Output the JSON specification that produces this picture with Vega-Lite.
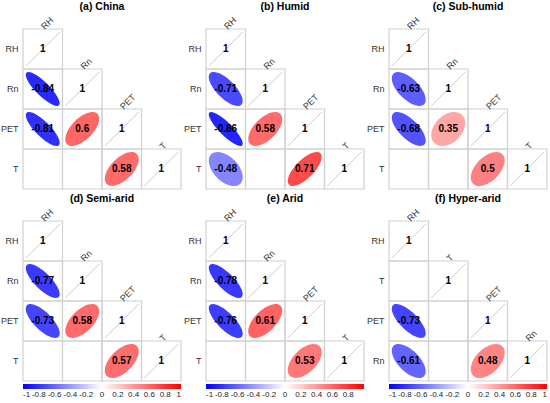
{
  "$schema": "https://vega.github.io/schema/vega-lite/v6.json",
  "background": "white",
  "padding": {"left": 0, "top": 2, "right": 0, "bottom": 0},
  "datasets": {
    "corr": [
      {"panel": "a", "row": "RH", "col": "RH", "r": 1},
      {"panel": "a", "row": "Rn", "col": "RH", "r": -0.84},
      {"panel": "a", "row": "Rn", "col": "Rn", "r": 1},
      {"panel": "a", "row": "PET", "col": "RH", "r": -0.81},
      {"panel": "a", "row": "PET", "col": "Rn", "r": 0.6},
      {"panel": "a", "row": "PET", "col": "PET", "r": 1},
      {"panel": "a", "row": "T", "col": "RH", "r": null},
      {"panel": "a", "row": "T", "col": "Rn", "r": null},
      {"panel": "a", "row": "T", "col": "PET", "r": 0.58},
      {"panel": "a", "row": "T", "col": "T", "r": 1},

      {"panel": "b", "row": "RH", "col": "RH", "r": 1},
      {"panel": "b", "row": "Rn", "col": "RH", "r": -0.71},
      {"panel": "b", "row": "Rn", "col": "Rn", "r": 1},
      {"panel": "b", "row": "PET", "col": "RH", "r": -0.86},
      {"panel": "b", "row": "PET", "col": "Rn", "r": 0.58},
      {"panel": "b", "row": "PET", "col": "PET", "r": 1},
      {"panel": "b", "row": "T", "col": "RH", "r": -0.48},
      {"panel": "b", "row": "T", "col": "Rn", "r": null},
      {"panel": "b", "row": "T", "col": "PET", "r": 0.71},
      {"panel": "b", "row": "T", "col": "T", "r": 1},

      {"panel": "c", "row": "RH", "col": "RH", "r": 1},
      {"panel": "c", "row": "Rn", "col": "RH", "r": -0.63},
      {"panel": "c", "row": "Rn", "col": "Rn", "r": 1},
      {"panel": "c", "row": "PET", "col": "RH", "r": -0.68},
      {"panel": "c", "row": "PET", "col": "Rn", "r": 0.35},
      {"panel": "c", "row": "PET", "col": "PET", "r": 1},
      {"panel": "c", "row": "T", "col": "RH", "r": null},
      {"panel": "c", "row": "T", "col": "Rn", "r": null},
      {"panel": "c", "row": "T", "col": "PET", "r": 0.5},
      {"panel": "c", "row": "T", "col": "T", "r": 1},

      {"panel": "d", "row": "RH", "col": "RH", "r": 1},
      {"panel": "d", "row": "Rn", "col": "RH", "r": -0.77},
      {"panel": "d", "row": "Rn", "col": "Rn", "r": 1},
      {"panel": "d", "row": "PET", "col": "RH", "r": -0.73},
      {"panel": "d", "row": "PET", "col": "Rn", "r": 0.58},
      {"panel": "d", "row": "PET", "col": "PET", "r": 1},
      {"panel": "d", "row": "T", "col": "RH", "r": null},
      {"panel": "d", "row": "T", "col": "Rn", "r": null},
      {"panel": "d", "row": "T", "col": "PET", "r": 0.57},
      {"panel": "d", "row": "T", "col": "T", "r": 1},

      {"panel": "e", "row": "RH", "col": "RH", "r": 1},
      {"panel": "e", "row": "Rn", "col": "RH", "r": -0.78},
      {"panel": "e", "row": "Rn", "col": "Rn", "r": 1},
      {"panel": "e", "row": "PET", "col": "RH", "r": -0.76},
      {"panel": "e", "row": "PET", "col": "Rn", "r": 0.61},
      {"panel": "e", "row": "PET", "col": "PET", "r": 1},
      {"panel": "e", "row": "T", "col": "RH", "r": null},
      {"panel": "e", "row": "T", "col": "Rn", "r": null},
      {"panel": "e", "row": "T", "col": "PET", "r": 0.53},
      {"panel": "e", "row": "T", "col": "T", "r": 1},

      {"panel": "f", "row": "RH", "col": "RH", "r": 1},
      {"panel": "f", "row": "T", "col": "RH", "r": null},
      {"panel": "f", "row": "T", "col": "T", "r": 1},
      {"panel": "f", "row": "PET", "col": "RH", "r": -0.73},
      {"panel": "f", "row": "PET", "col": "T", "r": null},
      {"panel": "f", "row": "PET", "col": "PET", "r": 1},
      {"panel": "f", "row": "Rn", "col": "RH", "r": -0.61},
      {"panel": "f", "row": "Rn", "col": "T", "r": null},
      {"panel": "f", "row": "Rn", "col": "PET", "r": 0.48},
      {"panel": "f", "row": "Rn", "col": "Rn", "r": 1}
    ]
  },
  "resolve": {"scale": {"color": "independent", "shape": "independent"}},
  "spacing": 4,
  "vconcat": [
    {
      "resolve": {"scale": {"color": "independent", "shape": "independent"}},
      "spacing": 1,
      "hconcat": [
        {
          "title": "(a) China",
          "width": 158,
          "height": 160,
          "data": {"name": "corr"},
          "transform": [{"filter": "datum.panel == 'a'"}],
          "encoding": {
            "x": {"field": "col", "type": "nominal", "scale": {"domain": ["RH", "Rn", "PET", "T"], "padding": 0}, "axis": null},
            "y": {"field": "row", "type": "nominal", "scale": {"domain": ["RH", "Rn", "PET", "T"], "padding": 0}}
          },
          "layer": [
            {"mark": {"type": "rect", "filled": false, "stroke": "#d0d0d0", "strokeWidth": 1.2}},
            {
              "transform": [{"filter": "datum.r != null && datum.r < 1"}],
              "mark": {"type": "point", "filled": true, "opacity": 1, "size": 1156, "strokeWidth": 0},
              "encoding": {
                "color": {"field": "r", "type": "quantitative", "scale": {"domain": [-1, 0, 1], "range": ["#0000ff", "#ffffff", "#ff0000"], "interpolate": "rgb"}, "legend": null},
                "shape": {"field": "r", "type": "nominal", "legend": null, "scale": {
                  "domain": [-0.84, -0.81, 0.6, 0.58],
                  "range": [
                    "M -1.356 0 A 1.356 0.4 0 1 0 1.356 0 A 1.356 0.4 0 1 0 -1.356 0 Z",
                    "M -1.345 0 A 1.345 0.436 0 1 0 1.345 0 A 1.345 0.436 0 1 0 -1.345 0 Z",
                    "M -1.265 0 A 1.265 0.632 0 1 0 1.265 0 A 1.265 0.632 0 1 0 -1.265 0 Z",
                    "M -1.257 0 A 1.257 0.648 0 1 0 1.257 0 A 1.257 0.648 0 1 0 -1.257 0 Z"
                  ]}},
                "angle": {"condition": {"test": "datum.r < 0", "value": 45}, "value": 315}
              }
            },
            {
              "transform": [{"filter": "datum.r == 1"}],
              "mark": {"type": "point", "shape": "M -1 1 L 1 -1", "filled": false, "opacity": 1, "size": 1156, "stroke": "#bdbdbd", "strokeWidth": 0.8}
            },
            {
              "transform": [{"filter": "datum.r != null"}],
              "mark": {"type": "text", "fontWeight": "bold", "fontSize": 10, "color": "black"},
              "encoding": {"text": {"field": "r", "type": "nominal"}}
            },
            {
              "transform": [{"filter": "datum.r == 1"}],
              "mark": {"type": "text", "angle": 315, "align": "left", "baseline": "middle", "yOffset": -21, "fontSize": 9, "color": "#333"},
              "encoding": {"text": {"field": "col", "type": "nominal"}}
            }
          ]
        },
        {
          "title": "(b) Humid",
          "width": 158,
          "height": 160,
          "data": {"name": "corr"},
          "transform": [{"filter": "datum.panel == 'b'"}],
          "encoding": {
            "x": {"field": "col", "type": "nominal", "scale": {"domain": ["RH", "Rn", "PET", "T"], "padding": 0}, "axis": null},
            "y": {"field": "row", "type": "nominal", "scale": {"domain": ["RH", "Rn", "PET", "T"], "padding": 0}}
          },
          "layer": [
            {"mark": {"type": "rect", "filled": false, "stroke": "#d0d0d0", "strokeWidth": 1.2}},
            {
              "transform": [{"filter": "datum.r != null && datum.r < 1"}],
              "mark": {"type": "point", "filled": true, "opacity": 1, "size": 1156, "strokeWidth": 0},
              "encoding": {
                "color": {"field": "r", "type": "quantitative", "scale": {"domain": [-1, 0, 1], "range": ["#0000ff", "#ffffff", "#ff0000"], "interpolate": "rgb"}, "legend": null},
                "shape": {"field": "r", "type": "nominal", "legend": null, "scale": {
                  "domain": [-0.71, -0.86, 0.58, -0.48, 0.71],
                  "range": [
                    "M -1.308 0 A 1.308 0.539 0 1 0 1.308 0 A 1.308 0.539 0 1 0 -1.308 0 Z",
                    "M -1.364 0 A 1.364 0.374 0 1 0 1.364 0 A 1.364 0.374 0 1 0 -1.364 0 Z",
                    "M -1.257 0 A 1.257 0.648 0 1 0 1.257 0 A 1.257 0.648 0 1 0 -1.257 0 Z",
                    "M -1.217 0 A 1.217 0.721 0 1 0 1.217 0 A 1.217 0.721 0 1 0 -1.217 0 Z",
                    "M -1.308 0 A 1.308 0.539 0 1 0 1.308 0 A 1.308 0.539 0 1 0 -1.308 0 Z"
                  ]}},
                "angle": {"condition": {"test": "datum.r < 0", "value": 45}, "value": 315}
              }
            },
            {
              "transform": [{"filter": "datum.r == 1"}],
              "mark": {"type": "point", "shape": "M -1 1 L 1 -1", "filled": false, "opacity": 1, "size": 1156, "stroke": "#bdbdbd", "strokeWidth": 0.8}
            },
            {
              "transform": [{"filter": "datum.r != null"}],
              "mark": {"type": "text", "fontWeight": "bold", "fontSize": 10, "color": "black"},
              "encoding": {"text": {"field": "r", "type": "nominal"}}
            },
            {
              "transform": [{"filter": "datum.r == 1"}],
              "mark": {"type": "text", "angle": 315, "align": "left", "baseline": "middle", "yOffset": -21, "fontSize": 9, "color": "#333"},
              "encoding": {"text": {"field": "col", "type": "nominal"}}
            }
          ]
        },
        {
          "title": "(c) Sub-humid",
          "width": 158,
          "height": 160,
          "data": {"name": "corr"},
          "transform": [{"filter": "datum.panel == 'c'"}],
          "encoding": {
            "x": {"field": "col", "type": "nominal", "scale": {"domain": ["RH", "Rn", "PET", "T"], "padding": 0}, "axis": null},
            "y": {"field": "row", "type": "nominal", "scale": {"domain": ["RH", "Rn", "PET", "T"], "padding": 0}}
          },
          "layer": [
            {"mark": {"type": "rect", "filled": false, "stroke": "#d0d0d0", "strokeWidth": 1.2}},
            {
              "transform": [{"filter": "datum.r != null && datum.r < 1"}],
              "mark": {"type": "point", "filled": true, "opacity": 1, "size": 1156, "strokeWidth": 0},
              "encoding": {
                "color": {"field": "r", "type": "quantitative", "scale": {"domain": [-1, 0, 1], "range": ["#0000ff", "#ffffff", "#ff0000"], "interpolate": "rgb"}, "legend": null},
                "shape": {"field": "r", "type": "nominal", "legend": null, "scale": {
                  "domain": [-0.63, -0.68, 0.35, 0.5],
                  "range": [
                    "M -1.277 0 A 1.277 0.608 0 1 0 1.277 0 A 1.277 0.608 0 1 0 -1.277 0 Z",
                    "M -1.296 0 A 1.296 0.566 0 1 0 1.296 0 A 1.296 0.566 0 1 0 -1.296 0 Z",
                    "M -1.162 0 A 1.162 0.806 0 1 0 1.162 0 A 1.162 0.806 0 1 0 -1.162 0 Z",
                    "M -1.225 0 A 1.225 0.707 0 1 0 1.225 0 A 1.225 0.707 0 1 0 -1.225 0 Z"
                  ]}},
                "angle": {"condition": {"test": "datum.r < 0", "value": 45}, "value": 315}
              }
            },
            {
              "transform": [{"filter": "datum.r == 1"}],
              "mark": {"type": "point", "shape": "M -1 1 L 1 -1", "filled": false, "opacity": 1, "size": 1156, "stroke": "#bdbdbd", "strokeWidth": 0.8}
            },
            {
              "transform": [{"filter": "datum.r != null"}],
              "mark": {"type": "text", "fontWeight": "bold", "fontSize": 10, "color": "black"},
              "encoding": {"text": {"field": "r", "type": "nominal"}}
            },
            {
              "transform": [{"filter": "datum.r == 1"}],
              "mark": {"type": "text", "angle": 315, "align": "left", "baseline": "middle", "yOffset": -21, "fontSize": 9, "color": "#333"},
              "encoding": {"text": {"field": "col", "type": "nominal"}}
            }
          ]
        }
      ]
    },
    {
      "resolve": {"scale": {"color": "independent", "shape": "independent"}},
      "spacing": 1,
      "hconcat": [
        {
          "title": "(d) Semi-arid",
          "width": 158,
          "height": 160,
          "data": {"name": "corr"},
          "transform": [{"filter": "datum.panel == 'd'"}],
          "encoding": {
            "x": {"field": "col", "type": "nominal", "scale": {"domain": ["RH", "Rn", "PET", "T"], "padding": 0}, "axis": null},
            "y": {"field": "row", "type": "nominal", "scale": {"domain": ["RH", "Rn", "PET", "T"], "padding": 0}}
          },
          "layer": [
            {"mark": {"type": "rect", "filled": false, "stroke": "#d0d0d0", "strokeWidth": 1.2}},
            {
              "transform": [{"filter": "datum.r != null && datum.r < 1"}],
              "mark": {"type": "point", "filled": true, "opacity": 1, "size": 1156, "strokeWidth": 0},
              "encoding": {
                "color": {"field": "r", "type": "quantitative", "scale": {"domain": [-1, 0, 1], "range": ["#0000ff", "#ffffff", "#ff0000"], "interpolate": "rgb"},
                  "legend": {"title": null, "values": [-1, -0.8, -0.6, -0.4, -0.2, 0, 0.2, 0.4, 0.6, 0.8, 1], "labelExpr": "'' + datum.value"}},
                "shape": {"field": "r", "type": "nominal", "legend": null, "scale": {
                  "domain": [-0.77, -0.73, 0.58, 0.57],
                  "range": [
                    "M -1.330 0 A 1.330 0.480 0 1 0 1.330 0 A 1.330 0.480 0 1 0 -1.330 0 Z",
                    "M -1.315 0 A 1.315 0.520 0 1 0 1.315 0 A 1.315 0.520 0 1 0 -1.315 0 Z",
                    "M -1.257 0 A 1.257 0.648 0 1 0 1.257 0 A 1.257 0.648 0 1 0 -1.257 0 Z",
                    "M -1.253 0 A 1.253 0.656 0 1 0 1.253 0 A 1.253 0.656 0 1 0 -1.253 0 Z"
                  ]}},
                "angle": {"condition": {"test": "datum.r < 0", "value": 45}, "value": 315}
              }
            },
            {
              "transform": [{"filter": "datum.r == 1"}],
              "mark": {"type": "point", "shape": "M -1 1 L 1 -1", "filled": false, "opacity": 1, "size": 1156, "stroke": "#bdbdbd", "strokeWidth": 0.8}
            },
            {
              "transform": [{"filter": "datum.r != null"}],
              "mark": {"type": "text", "fontWeight": "bold", "fontSize": 10, "color": "black"},
              "encoding": {"text": {"field": "r", "type": "nominal"}}
            },
            {
              "transform": [{"filter": "datum.r == 1"}],
              "mark": {"type": "text", "angle": 315, "align": "left", "baseline": "middle", "yOffset": -21, "fontSize": 9, "color": "#333"},
              "encoding": {"text": {"field": "col", "type": "nominal"}}
            }
          ]
        },
        {
          "title": "(e) Arid",
          "width": 158,
          "height": 160,
          "data": {"name": "corr"},
          "transform": [{"filter": "datum.panel == 'e'"}],
          "encoding": {
            "x": {"field": "col", "type": "nominal", "scale": {"domain": ["RH", "Rn", "PET", "T"], "padding": 0}, "axis": null},
            "y": {"field": "row", "type": "nominal", "scale": {"domain": ["RH", "Rn", "PET", "T"], "padding": 0}}
          },
          "layer": [
            {"mark": {"type": "rect", "filled": false, "stroke": "#d0d0d0", "strokeWidth": 1.2}},
            {
              "transform": [{"filter": "datum.r != null && datum.r < 1"}],
              "mark": {"type": "point", "filled": true, "opacity": 1, "size": 1156, "strokeWidth": 0},
              "encoding": {
                "color": {"field": "r", "type": "quantitative", "scale": {"domain": [-1, 0, 1], "range": ["#0000ff", "#ffffff", "#ff0000"], "interpolate": "rgb"},
                  "legend": {"title": null, "values": [-1, -0.8, -0.6, -0.4, -0.2, 0, 0.2, 0.4, 0.6, 0.8], "labelExpr": "'' + datum.value"}},
                "shape": {"field": "r", "type": "nominal", "legend": null, "scale": {
                  "domain": [-0.78, -0.76, 0.61, 0.53],
                  "range": [
                    "M -1.334 0 A 1.334 0.469 0 1 0 1.334 0 A 1.334 0.469 0 1 0 -1.334 0 Z",
                    "M -1.327 0 A 1.327 0.490 0 1 0 1.327 0 A 1.327 0.490 0 1 0 -1.327 0 Z",
                    "M -1.269 0 A 1.269 0.624 0 1 0 1.269 0 A 1.269 0.624 0 1 0 -1.269 0 Z",
                    "M -1.237 0 A 1.237 0.686 0 1 0 1.237 0 A 1.237 0.686 0 1 0 -1.237 0 Z"
                  ]}},
                "angle": {"condition": {"test": "datum.r < 0", "value": 45}, "value": 315}
              }
            },
            {
              "transform": [{"filter": "datum.r == 1"}],
              "mark": {"type": "point", "shape": "M -1 1 L 1 -1", "filled": false, "opacity": 1, "size": 1156, "stroke": "#bdbdbd", "strokeWidth": 0.8}
            },
            {
              "transform": [{"filter": "datum.r != null"}],
              "mark": {"type": "text", "fontWeight": "bold", "fontSize": 10, "color": "black"},
              "encoding": {"text": {"field": "r", "type": "nominal"}}
            },
            {
              "transform": [{"filter": "datum.r == 1"}],
              "mark": {"type": "text", "angle": 315, "align": "left", "baseline": "middle", "yOffset": -21, "fontSize": 9, "color": "#333"},
              "encoding": {"text": {"field": "col", "type": "nominal"}}
            }
          ]
        },
        {
          "title": "(f) Hyper-arid",
          "width": 158,
          "height": 160,
          "data": {"name": "corr"},
          "transform": [{"filter": "datum.panel == 'f'"}],
          "encoding": {
            "x": {"field": "col", "type": "nominal", "scale": {"domain": ["RH", "T", "PET", "Rn"], "padding": 0}, "axis": null},
            "y": {"field": "row", "type": "nominal", "scale": {"domain": ["RH", "T", "PET", "Rn"], "padding": 0}}
          },
          "layer": [
            {"mark": {"type": "rect", "filled": false, "stroke": "#d0d0d0", "strokeWidth": 1.2}},
            {
              "transform": [{"filter": "datum.r != null && datum.r < 1"}],
              "mark": {"type": "point", "filled": true, "opacity": 1, "size": 1156, "strokeWidth": 0},
              "encoding": {
                "color": {"field": "r", "type": "quantitative", "scale": {"domain": [-1, 0, 1], "range": ["#0000ff", "#ffffff", "#ff0000"], "interpolate": "rgb"},
                  "legend": {"title": null, "values": [-1, -0.8, -0.6, -0.4, -0.2, 0, 0.2, 0.4, 0.6, 0.8, 1], "labelExpr": "'' + datum.value"}},
                "shape": {"field": "r", "type": "nominal", "legend": null, "scale": {
                  "domain": [-0.73, -0.61, 0.48],
                  "range": [
                    "M -1.315 0 A 1.315 0.520 0 1 0 1.315 0 A 1.315 0.520 0 1 0 -1.315 0 Z",
                    "M -1.269 0 A 1.269 0.624 0 1 0 1.269 0 A 1.269 0.624 0 1 0 -1.269 0 Z",
                    "M -1.217 0 A 1.217 0.721 0 1 0 1.217 0 A 1.217 0.721 0 1 0 -1.217 0 Z"
                  ]}},
                "angle": {"condition": {"test": "datum.r < 0", "value": 45}, "value": 315}
              }
            },
            {
              "transform": [{"filter": "datum.r == 1"}],
              "mark": {"type": "point", "shape": "M -1 1 L 1 -1", "filled": false, "opacity": 1, "size": 1156, "stroke": "#bdbdbd", "strokeWidth": 0.8}
            },
            {
              "transform": [{"filter": "datum.r != null"}],
              "mark": {"type": "text", "fontWeight": "bold", "fontSize": 10, "color": "black"},
              "encoding": {"text": {"field": "r", "type": "nominal"}}
            },
            {
              "transform": [{"filter": "datum.r == 1"}],
              "mark": {"type": "text", "angle": 315, "align": "left", "baseline": "middle", "yOffset": -21, "fontSize": 9, "color": "#333"},
              "encoding": {"text": {"field": "col", "type": "nominal"}}
            }
          ]
        }
      ]
    }
  ],
  "config": {
    "view": {"stroke": null},
    "font": "Liberation Sans",
    "title": {"fontSize": 10.5, "fontWeight": "bold", "color": "black", "offset": 3, "frame": "group", "anchor": "middle"},
    "axis": {"title": null, "ticks": false, "domain": false, "grid": false, "labelFontSize": 9, "labelColor": "#333", "labelPadding": 5},
    "legend": {
      "orient": "bottom",
      "direction": "horizontal",
      "gradientLength": 158,
      "gradientThickness": 5,
      "gradientStrokeWidth": 0,
      "offset": 3,
      "padding": 0,
      "labelFontSize": 8,
      "labelAlign": "center",
      "labelColor": "#222",
      "labelOffset": 3,
      "labelOverlap": false
    }
  }
}
